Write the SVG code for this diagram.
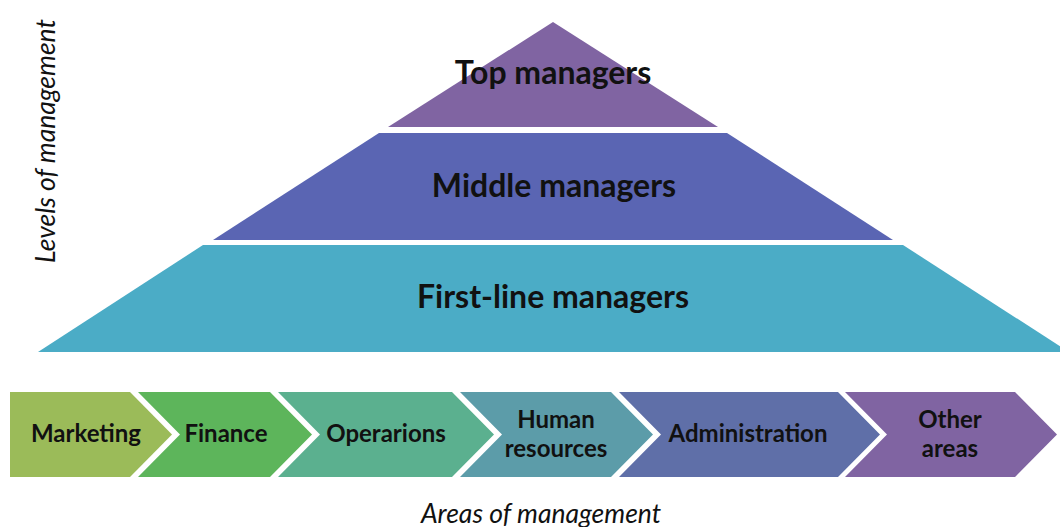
<svg xmlns="http://www.w3.org/2000/svg" width="1060" height="527" viewBox="0 0 1060 527">
<style>
.lvl{font-family:Lato,"Open Sans","Liberation Sans",sans-serif;font-weight:bold;font-size:32px;fill:#111;text-anchor:middle}
.area{font-family:Lato,"Open Sans","Liberation Sans",sans-serif;font-weight:bold;font-size:24px;fill:#111;text-anchor:middle}
.axis{font-family:Lato,"Open Sans","Liberation Sans",sans-serif;font-style:italic;font-size:26.5px;fill:#111;text-anchor:middle}
</style>
<rect width="1060" height="527" fill="#fff"/>
<g id="top">
<polygon points="553,22 718,127 388,127" fill="#8064A2"/>
<text class="lvl" x="553" y="84">Top managers</text>
</g>
<g id="middle">
<polygon points="379,133 727,133 893,240 213,240" fill="#5A65B3"/>
<text class="lvl" x="554" y="197">Middle managers</text>
</g>
<g id="firstline">
<polygon points="203,245 903,245 1069,352 38,352" fill="#4BACC6"/>
<text class="lvl" x="553" y="308">First-line managers</text>
</g>
<g id="marketing">
<polygon points="10,392 130,392 172,434.5 130,477 10,477" fill="#9BBB59"/>
<text class="area" x="86" y="442">Marketing</text>
</g>
<g id="finance">
<polygon points="138,392 270,392 312,434.5 270,477 138,477 180,434.5" fill="#5DB55B"/>
<text class="area" x="226" y="442">Finance</text>
</g>
<g id="operations">
<polygon points="278,392 452,392 494,434.5 452,477 278,477 320,434.5" fill="#5BB08F"/>
<text class="area" x="386" y="442">Operarions</text>
</g>
<g id="hr">
<polygon points="460,392 611,392 653,434.5 611,477 460,477 502,434.5" fill="#5C9CA9"/>
<text class="area" x="556" y="428">Human</text>
<text class="area" x="556" y="457">resources</text>
</g>
<g id="administration">
<polygon points="619,392 838,392 880,434.5 838,477 619,477 661,434.5" fill="#5F6FA8"/>
<text class="area" x="748" y="442">Administration</text>
</g>
<g id="other">
<polygon points="845,392 1015,392 1057,434.5 1015,477 845,477 887,434.5" fill="#8064A2"/>
<text class="area" x="950" y="428">Other</text>
<text class="area" x="950" y="457">areas</text>
</g>
<g id="connectors"></g>
<text class="axis" transform="translate(55,141) rotate(-90)">Levels of management</text>
<text class="axis" x="541" y="523">Areas of management</text>
</svg>
